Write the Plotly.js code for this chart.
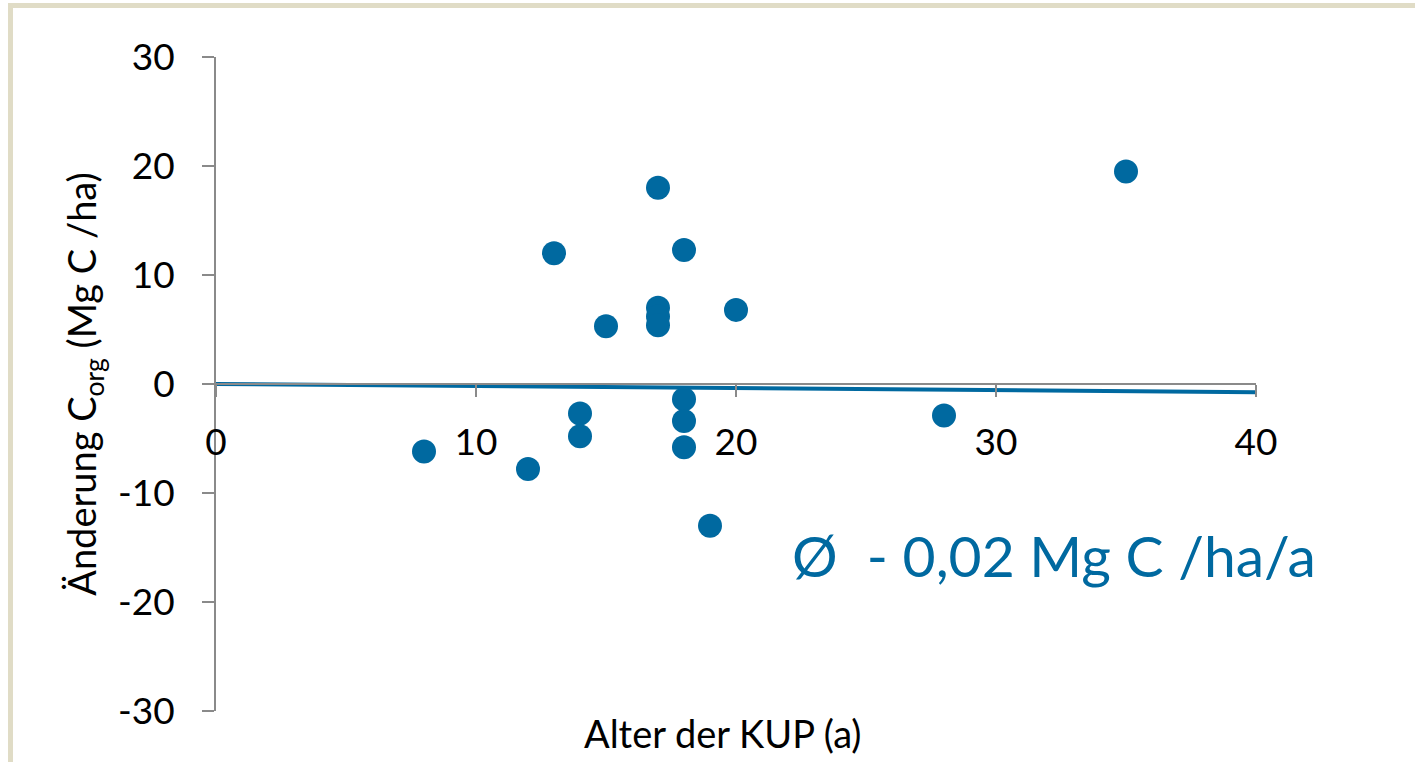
<!DOCTYPE html>
<html>
<head>
<meta charset="utf-8">
<script src="https://cdn.plot.ly/plotly-3.0.1.min.js"></script>
<style>
  html, body { margin: 0; padding: 0; background: #ffffff; }
  #wrap { position: relative; width: 1415px; height: 762px; overflow: hidden; }
  #chart { position: absolute; left: 0; top: 0; width: 1415px; height: 762px; }
  #frame { position: absolute; left: 8px; top: 3px; width: 1500px; height: 900px;
           border-left: 5px solid #e0dcc6; border-top: 5px solid #e0dcc6; pointer-events: none; }
</style>
</head>
<body>
<div id="wrap">
  <div id="chart"></div>
  <div id="frame"></div>
</div>
<script>
// Data
const ageYears = [8, 12, 13, 14, 14, 15, 17, 17, 17, 17, 18, 18, 18, 18, 19, 20, 28, 35];
const changeCorg = [-6.2, -7.8, 12.0, -2.7, -4.8, 5.3, 18.0, 7.0, 6.2, 5.4, 12.3, -1.4, -3.4, -5.8, -13.0, 6.8, -2.9, 19.5];
const trendX = [0, 40];
const trendY = [0, -0.75];
const xTicks = [0, 10, 20, 30, 40];
const yTicks = [-30, -20, -10, 0, 10, 20, 30];
const xTitle = 'Alter der KUP (a)';
const yTitle = 'Änderung C<sub>org</sub> (Mg C /ha)';
const noteText = 'Ø  - 0,02 Mg C /ha/a';

const blue = '#0069a0';
const axisGrey = '#8a8a8a';
const fontFam = 'Lato, "Open Sans", sans-serif';

const traces = [
  {
    x: trendX, y: trendY, type: 'scatter', mode: 'lines',
    line: { color: blue, width: 4 }, hoverinfo: 'skip', showlegend: false
  },
  {
    x: ageYears, y: changeCorg, type: 'scatter', mode: 'markers',
    marker: { color: blue, size: 24 }, showlegend: false
  }
];

const layout = {
  width: 1415, height: 762,
  paper_bgcolor: '#ffffff', plot_bgcolor: '#ffffff',
  margin: { l: 216, r: 159, t: 57, b: 51, pad: 0 },
  font: { family: fontFam, color: '#000000' },
  showlegend: false,
  xaxis: {
    range: [0, 40], tickvals: xTicks, ticktext: xTicks.map(String),
    anchor: 'free', position: 0.5,
    showline: true, linecolor: axisGrey, linewidth: 2,
    ticks: 'outside', ticklen: 12, tickwidth: 2, tickcolor: axisGrey,
    ticklabelstandoff: 14,
    showgrid: false, zeroline: false,
    tickfont: { size: 37, color: '#000000', family: fontFam },
    automargin: false, fixedrange: true
  },
  yaxis: {
    range: [-30, 30], tickvals: yTicks, ticktext: yTicks.map(String),
    showline: true, linecolor: axisGrey, linewidth: 2,
    ticks: 'outside', ticklen: 12, tickwidth: 2, tickcolor: axisGrey,
    ticklabelstandoff: 20,
    showgrid: false, zeroline: false,
    tickfont: { size: 37, color: '#000000', family: fontFam },
    title: { text: yTitle, font: { size: 38, color: '#000000', family: fontFam }, standoff: 10 },
    automargin: false, fixedrange: true
  },
  annotations: [
    {
      text: xTitle, xref: 'paper', yref: 'paper',
      x: 0.4875, y: -0.0336, xanchor: 'center', yanchor: 'middle',
      showarrow: false, font: { size: 38, color: '#000000', family: fontFam }
    },
    {
      text: noteText, xref: 'paper', yref: 'paper',
      x: 0.552, y: 0.2385, xanchor: 'left', yanchor: 'middle',
      showarrow: false, font: { size: 57, color: blue, family: fontFam }
    }
  ]
};

Plotly.newPlot('chart', traces, layout, { displayModeBar: false, staticPlot: true });
</script>
</body>
</html>
